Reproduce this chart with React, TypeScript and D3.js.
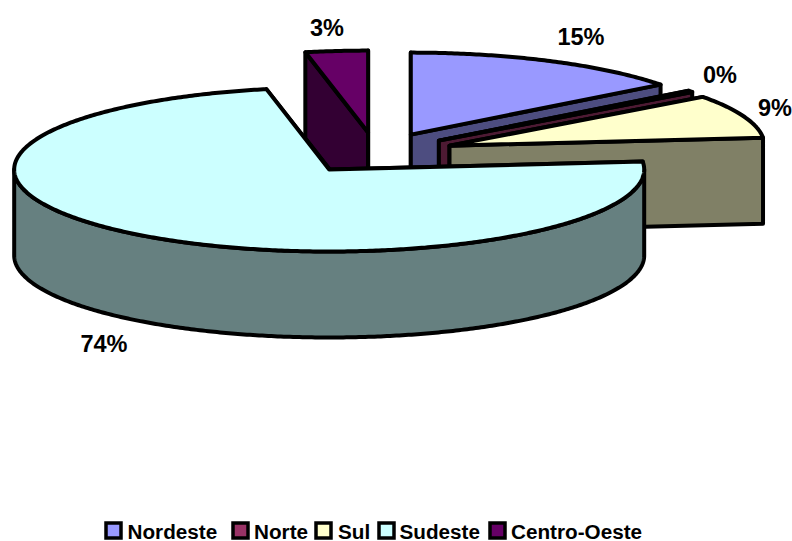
import React from "react";
import * as d3 from "d3";

const categories = ["Nordeste", "Norte", "Sul", "Sudeste", "Centro-Oeste"];
const values = [14.6, 0.3, 8.6, 73.5, 3.2];
const percentLabels = ["15%", "0%", "9%", "74%", "3%"];
const topColors = ["#9999FF", "#993366", "#FFFFCC", "#CCFFFF", "#660066"];
const sideColors = ["#4D4D80", "#4D1A33", "#808066", "#668080", "#330033"];

const W = 792, H = 541;
const base = { x: 376, y: 153 };
const RX = 315, RY = 82, DEPTH = 86, EXPLODE = 0.25, SW = 4;
const FONT = "'Liberation Sans', Arial, sans-serif";
const labelPos = [
  { x: 581, y: 45 }, { x: 720, y: 83 }, { x: 775, y: 116 }, { x: 104, y: 352 }, { x: 327, y: 36 },
];
const legendSwatchX = [106, 233, 316, 379, 490];
const legendTextX = [127.5, 254, 338, 399.5, 511];

const xScale = d3.scaleLinear().domain([-1, 1]).range([-RX, RX]);
const yScale = d3.scaleLinear().domain([-1, 1]).range([RY, -RY]);
const line = d3.line<[number, number]>().x(d => d[0]).y(d => d[1]);

const arcs = d3.pie<number>().sort(null).startAngle(0).endAngle(2 * Math.PI)(values);

function App() {
  const order = [4, 0, 1, 2, 3];
  return (
    <svg width={W} height={H} viewBox={`0 0 ${W} ${H}`} style={{ position: "absolute", left: 0, top: 0, background: "#fff" }}>
      {order.map(i => {
        const a = arcs[i];
        const mid = (a.startAngle + a.endAngle) / 2;
        const cx = base.x + xScale(EXPLODE * Math.sin(mid));
        const cy = base.y + yScale(EXPLODE * Math.cos(mid));
        const pt = (t: number, dz = 0): [number, number] => [cx + xScale(Math.sin(t)), cy + yScale(Math.cos(t)) + dz];
        const c: [number, number] = [cx, cy];
        const cd: [number, number] = [cx, cy + DEPTH];
        const sample = (s: number, e: number) => {
          const n = Math.max(2, Math.ceil((e - s) / 0.01));
          return d3.range(n + 1).map(k => s + ((e - s) * k) / n);
        };
        const rim = sample(a.startAngle, a.endAngle).map(t => pt(t));
        const top = line([c, ...rim])! + "Z";
        const startFace = line([c, pt(a.startAngle), pt(a.startAngle, DEPTH), cd])! + "Z";
        const endFace = line([c, pt(a.endAngle), pt(a.endAngle, DEPTH), cd])! + "Z";
        const ws = Math.max(a.startAngle, Math.PI / 2), we = Math.min(a.endAngle, 1.5 * Math.PI);
        let wall: string | null = null;
        if (we > ws) {
          const ts = sample(ws, we);
          wall = line([...ts.map(t => pt(t)), ...ts.slice().reverse().map(t => pt(t, DEPTH))])! + "Z";
        }
        const common = { stroke: "#000", strokeWidth: SW, strokeLinejoin: "round" as const };
        return (
          <g key={categories[i]}>
            <path d={startFace} fill={sideColors[i]} {...common} />
            <path d={endFace} fill={sideColors[i]} {...common} />
            {wall && <path d={wall} fill={sideColors[i]} {...common} />}
            <path d={top} fill={topColors[i]} {...common} />
          </g>
        );
      })}
      {percentLabels.map((t, i) => (
        <text key={i} x={labelPos[i].x} y={labelPos[i].y} textAnchor="middle" fontFamily={FONT} fontWeight="bold" fontSize={23.5} fill="#000">{t}</text>
      ))}
      {categories.map((c, i) => (
        <g key={c}>
          <rect x={legendSwatchX[i]} y={523} width={15} height={15} fill={topColors[i]} stroke="#000" strokeWidth={3.5} />
          <text x={legendTextX[i]} y={538.5} fontFamily={FONT} fontWeight="bold" fontSize={20.7} fill="#000">{c}</text>
        </g>
      ))}
    </svg>
  );
}

export default App;
